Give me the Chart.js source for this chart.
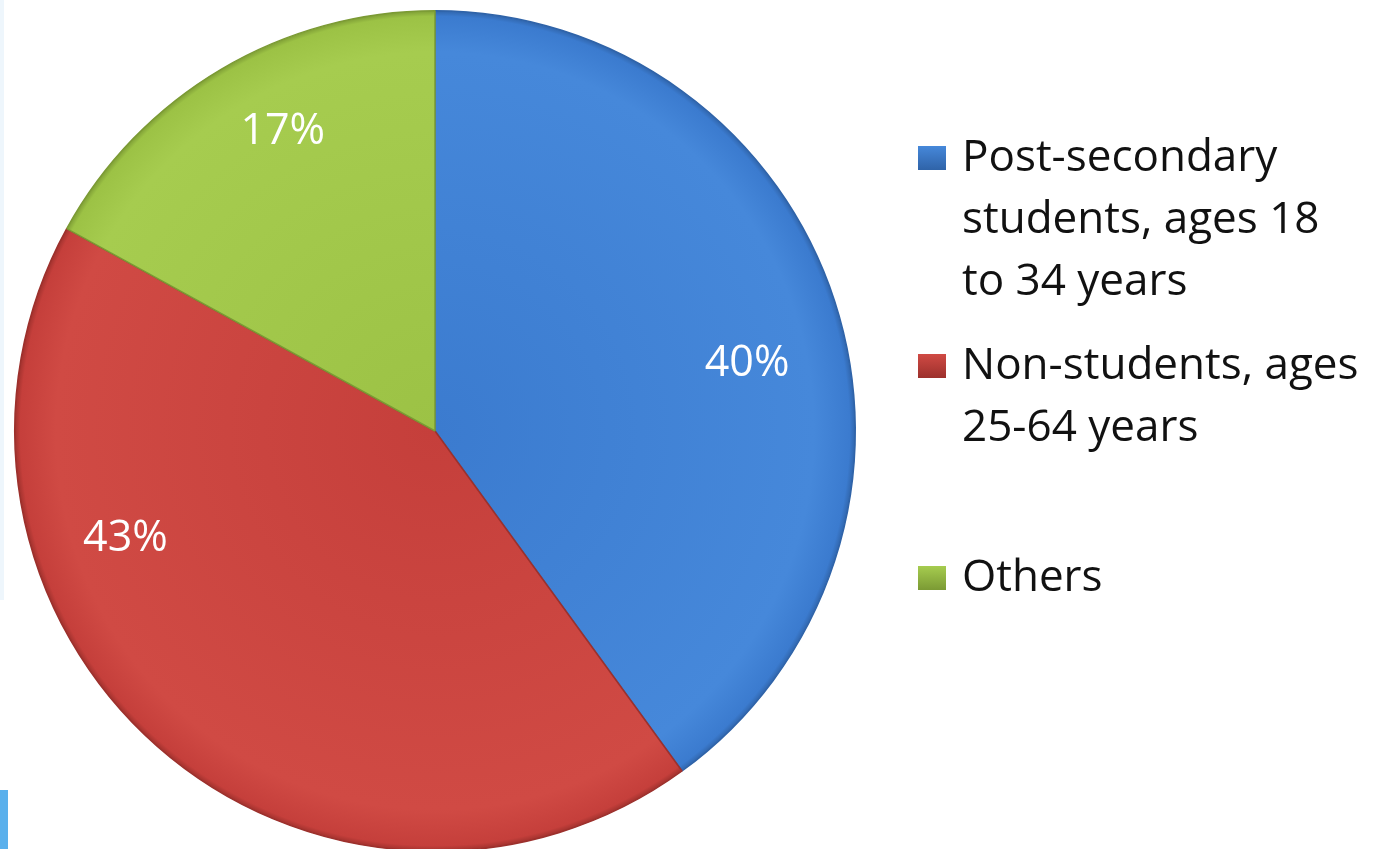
<!DOCTYPE html>
<html>
<head>
<meta charset="utf-8">
<script src="https://cdn.jsdelivr.net/npm/chart.js@4"></script>
<style>
  html, body { margin: 0; padding: 0; background: #fff; overflow: hidden; }
  #wrap { position: relative; width: 1387px; height: 855px; }
  .edge { position: absolute; left: 0; top: 0; width: 4px; height: 600px; background: #eef6fc; }
  .tab { position: absolute; left: 0; top: 790px; width: 8px; height: 60px; background: #5ab0ec; }
</style>
</head>
<body>
<div id="wrap">
  <canvas id="pieChart"></canvas>
  <div class="edge"></div>
  <div class="tab"></div>
</div>
<script>
var labels = [
    "Post-secondary\nstudents, ages 18\nto 34 years",
    "Non-students, ages\n25-64 years",
    "Others"
];
var shares = [40, 43, 17];

var colors = ["#3b7bcf", "#c53f3b", "#9cc245"];
var lightColors = ["#4688da", "#d04a44", "#a6cc4f"];
var edgeColors = ["#2f63a8", "#9c302c", "#7b9a34"];
// where each % label sits: share of the slice's sweep, share of the radius
var labelSpot = [[0.54, 0.76], [0.69, 0.78], [0.56, 0.80]];

function sliceFill(context) {
    var chart = context.chart;
    var a = chart.chartArea;
    var i = context.dataIndex;
    if (!a) return colors[i];
    var cx = (a.left + a.right) / 2, cy = (a.top + a.bottom) / 2;
    var r = Math.min(a.right - a.left, a.bottom - a.top) / 2;
    var g = chart.ctx.createRadialGradient(cx, cy, 0, cx, cy, r);
    g.addColorStop(0, colors[i]);
    g.addColorStop(0.9, lightColors[i]);
    g.addColorStop(0.985, colors[i]);
    g.addColorStop(1, edgeColors[i]);
    return g;
}

// percent labels inside the slices
var sliceLabels = {
    id: 'sliceLabels',
    afterDatasetsDraw: function (chart) {
        var c = chart.ctx;
        var meta = chart.getDatasetMeta(0);
        c.save();
        c.font = '43px "Open Sans", sans-serif';
        c.fillStyle = '#ffffff';
        c.textAlign = 'center';
        c.textBaseline = 'middle';
        meta.data.forEach(function (arc, i) {
            var p = arc.getProps(['x', 'y', 'startAngle', 'endAngle', 'outerRadius'], true);
            var ang = p.startAngle + (p.endAngle - p.startAngle) * labelSpot[i][0];
            var r = p.outerRadius * labelSpot[i][1];
            c.fillText(shares[i] + '%', p.x + Math.cos(ang) * r, p.y + Math.sin(ang) * r);
        });
        c.restore();
    }
};

// legend on the right with wrapped lines
var sideLegend = {
    id: 'sideLegend',
    afterDraw: function (chart) {
        var c = chart.ctx;
        var x = 918, lineH = 62;
        var tops = [158, 366, 578];
        c.save();
        c.font = '44px "Open Sans", sans-serif';
        c.textBaseline = 'middle';
        chart.data.labels.forEach(function (lab, i) {
            var y = tops[i];
            var g = c.createLinearGradient(x, y - 12, x, y + 12);
            g.addColorStop(0, lightColors[i]);
            g.addColorStop(1, edgeColors[i]);
            c.fillStyle = g;
            c.fillRect(x, y - 12, 28, 24);
            c.fillStyle = '#111';
            lab.split('\n').forEach(function (line, j) {
                c.fillText(line, x + 44, y + j * lineH);
            });
        });
        c.restore();
    }
};

var ctx = document.getElementById("pieChart");
var myChart = new Chart(ctx, {
    type: 'pie',
    data: {
        labels: labels,
        datasets: [{
            data: shares,
            backgroundColor: sliceFill,
            borderColor: edgeColors,
            borderWidth: 1.5
        }]
    },
    options: {
        responsive: true,
        maintainAspectRatio: false,
        animation: false,
        layout: { padding: { left: 14, top: 10, right: 531, bottom: 3 } },
        plugins: {
            legend: { display: false },
            tooltip: { enabled: false }
        }
    },
    plugins: [sliceLabels, sideLegend]
});
</script>
</body>
</html>
